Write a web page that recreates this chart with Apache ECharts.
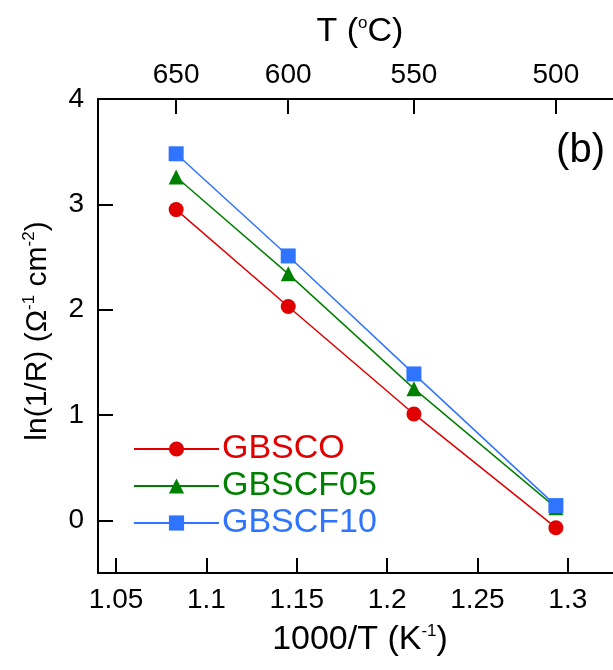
<!DOCTYPE html>
<html>
<head>
<meta charset="utf-8">
<style>
  html, body { margin: 0; padding: 0; background: #ffffff; }
  #chart { width: 613px; height: 670px; }
</style>
<script src="https://cdn.jsdelivr.net/npm/echarts@6/dist/echarts.min.js"></script>
</head>
<body>
<div id="chart"></div>
<script>
// Measurement temperatures (°C) and the matching 1000/T (K^-1) positions
var tempsC = [650, 600, 550, 500];
var invT = tempsC.map(function (t) { return 1000 / (t + 273.15); });

// ln(1/R) values for each composition
var gbsco   = [2.95, 2.03, 1.01, -0.07];
var gbscf05 = [3.26, 2.34, 1.25, 0.12];
var gbscf10 = [3.48, 2.51, 1.39, 0.14];

// Axis ticks
var xTicks = [1.05, 1.1, 1.15, 1.2, 1.25, 1.3];
var yTicks = [0, 1, 2, 3, 4];
var topTicksC = [650, 600, 550, 500];

var FONT = 'Liberation Sans';
var RED = '#e00000', GREEN = '#008000', BLUE = '#2f74ff';

function pairs(ys) {
  return invT.map(function (x, i) { return [x, ys[i]]; });
}

var axisLine = { show: true, onZero: false, lineStyle: { color: '#000', width: 2 } };
var axisTick = { show: true, inside: true, length: 15, lineStyle: { color: '#000', width: 2 } };
var supStyle = { fontFamily: FONT, fontSize: 17, verticalAlign: 'top', color: '#000', padding: [0, 0, 16, 0] };

var topVals = topTicksC.map(function (t) { return 1000 / (t + 273.15); });

var chart = echarts.init(document.getElementById('chart'), null, { renderer: 'canvas' });

chart.setOption({
  animation: false,
  backgroundColor: '#ffffff',
  grid: { left: 98, top: 99, width: 524, height: 474, containLabel: false, outerBoundsMode: 'none' },
  legend: {
    orient: 'vertical',
    left: 128,
    top: 427,
    itemWidth: 85,
    itemHeight: 19,
    itemGap: 3,
    textStyle: { fontFamily: FONT, fontSize: 34, lineHeight: 34, padding: [0, 0, 0, -2] },
    data: [
      { name: 'GBSCO', textStyle: { color: RED } },
      { name: 'GBSCF05', textStyle: { color: GREEN } },
      { name: 'GBSCF10', textStyle: { color: BLUE } }
    ]
  },
  xAxis: [
    {
      type: 'value',
      position: 'bottom',
      min: 1.04,
      max: 1.33,
      axisLine: axisLine,
      axisTick: Object.assign({}, axisTick, { customValues: xTicks }),
      axisLabel: {
        customValues: xTicks,
        margin: 13,
        color: '#000',
        fontFamily: FONT,
        fontSize: 28,
        formatter: function (v) { return String(+v.toFixed(2)); }
      },
      splitLine: { show: false },
      name: '1000/T (K{sup|-1})',
      nameLocation: 'middle',
      nameGap: 50,
      nameTextStyle: {
        color: '#000', fontFamily: FONT, fontSize: 34,
        rich: { sup: supStyle }
      }
    },
    {
      type: 'value',
      position: 'top',
      min: 1.04,
      max: 1.33,
      axisLine: axisLine,
      axisTick: Object.assign({}, axisTick, { customValues: topVals }),
      axisLabel: {
        customValues: topVals,
        margin: 10,
        color: '#000',
        fontFamily: FONT,
        fontSize: 28,
        formatter: function (v) { return String(Math.round(1000 / v - 273.15)); }
      },
      splitLine: { show: false },
      name: 'T ({sup|o}C)',
      nameLocation: 'middle',
      nameGap: 50,
      nameTextStyle: {
        color: '#000', fontFamily: FONT, fontSize: 34,
        rich: { sup: supStyle }
      }
    }
  ],
  yAxis: {
    type: 'value',
    min: -0.5,
    max: 4,
    axisLine: axisLine,
    axisTick: Object.assign({}, axisTick, { customValues: yTicks }),
    axisLabel: {
      customValues: yTicks,
      margin: 14,
      color: '#000',
      fontFamily: FONT,
      fontSize: 28
    },
    splitLine: { show: false },
    name: 'ln(1/R) (Ω{sup|-1} cm{sup|-2})',
    nameLocation: 'middle',
    nameRotate: 90,
    nameGap: 44,
    nameTextStyle: {
      color: '#000', fontFamily: FONT, fontSize: 30,
      padding: [0, 0, 0, 10],
      rich: { sup: supStyle }
    }
  },
  graphic: [
    {
      type: 'text',
      right: 8,
      top: 131,
      style: { text: '(b)', font: '40px "Liberation Sans"', fill: '#000' }
    }
  ],
  series: [
    {
      name: 'GBSCO', type: 'line', xAxisIndex: 0, data: pairs(gbsco),
      symbol: 'circle', symbolSize: 15,
      itemStyle: { color: RED }, lineStyle: { color: RED, width: 1.5 }
    },
    {
      name: 'GBSCF05', type: 'line', xAxisIndex: 0, data: pairs(gbscf05),
      symbol: 'triangle', symbolSize: 15,
      itemStyle: { color: GREEN }, lineStyle: { color: GREEN, width: 1.5 }
    },
    {
      name: 'GBSCF10', type: 'line', xAxisIndex: 0, data: pairs(gbscf10),
      symbol: 'rect', symbolSize: 15,
      itemStyle: { color: BLUE }, lineStyle: { color: BLUE, width: 1.5 }
    }
  ]
});
</script>
</body>
</html>
